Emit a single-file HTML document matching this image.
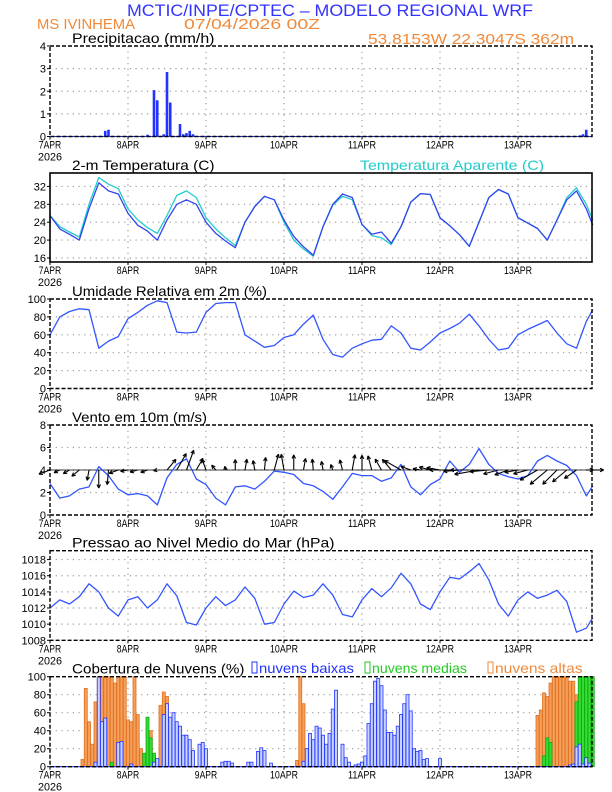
<!DOCTYPE html>
<html><head><meta charset="utf-8"><style>
html,body{margin:0;padding:0;background:#fff;}
svg{display:block;font-family:"Liberation Sans",sans-serif;}
</style></head><body>
<svg id="chart" width="612" height="792" viewBox="0 0 612 792" xmlns="http://www.w3.org/2000/svg">
<text x="330" y="16" font-size="17" fill="#3333ff" text-anchor="middle" textLength="406" lengthAdjust="spacingAndGlyphs">MCTIC/INPE/CPTEC – MODELO REGIONAL WRF</text>
<text x="37" y="29" font-size="15" fill="#f08a3a" textLength="98" lengthAdjust="spacingAndGlyphs">MS IVINHEMA</text>
<text x="184" y="29" font-size="15" fill="#f08a3a" textLength="136" lengthAdjust="spacingAndGlyphs">07/04/2026 00Z</text>
<text x="368" y="44" font-size="15" fill="#f08a3a" textLength="206" lengthAdjust="spacingAndGlyphs">53.8153W 22.3047S 362m</text>
<g id="plots"></g>
</svg>
<script>
// ---- data ----
const tHours = [0,3,6,9,12,15,18,21,24,27,30,33,36,39,42,45,48,51,54,57,60,63,66,69,72,75,78,81,84,87,90,93,96,99,102,105,108,111,114,117,120,123,126,129,132,135,138,141,144,147,150,153,156,159,162,165,167];
const tempVals = [25.5,22.5,21.3,20.0,27.0,32.8,31.0,30.3,26.0,23.3,22.0,20.0,24.5,28.0,29.0,28.0,24.0,21.5,19.8,18.3,24.0,27.5,29.8,29.0,24.5,20.8,18.5,16.6,23.0,28.0,30.3,29.5,23.5,21.3,21.8,19.3,23.0,28.5,30.4,30.2,25.0,23.2,21.2,18.6,24.0,29.5,31.3,30.3,25.0,23.8,22.6,20.0,24.5,29.0,31.0,27.0,23.3];
const apparentVals = [25.5,23.0,21.8,20.7,28.0,34.0,32.5,31.5,27.0,24.5,22.8,21.5,25.5,30.0,31.0,29.5,25.0,22.5,20.5,18.8,24.0,27.5,29.8,29.0,24.0,20.0,18.0,16.4,23.0,27.8,29.8,29.0,23.5,21.0,20.5,19.0,23.0,28.5,30.4,30.2,25.0,23.2,21.2,18.6,24.0,29.5,31.3,30.3,25.0,23.8,22.6,20.0,24.5,29.5,31.7,28.0,24.5];
const rhVals = [60,80,86,89,88,45,53,58,78,85,93,98,96,63,62,63,85,95,96,96,60,53,46,48,57,60,72,82,55,38,35,45,50,54,55,70,62,45,43,52,62,67,73,83,70,55,43,45,60,66,71,76,62,50,45,75,88];
const windSpeed = [2.8,1.5,1.7,2.3,2.5,4.3,3.5,2.3,1.8,1.9,1.7,0.9,3.3,4.5,5.0,3.2,2.7,1.5,0.9,2.5,2.6,2.3,3.0,3.9,3.8,3.6,2.8,2.6,2.1,1.4,2.5,3.7,3.5,3.5,3.0,3.3,4.5,2.5,1.8,2.7,3.2,4.8,3.8,4.5,5.9,4.5,3.7,3.4,3.2,3.5,4.8,5.3,4.8,4.4,3.5,1.7,2.6];
const windDir = [250,245,240,230,190,180,185,250,260,255,250,260,40,30,20,30,340,320,350,0,10,350,5,15,350,0,10,355,350,340,345,10,0,345,330,320,300,290,280,285,280,270,265,270,260,265,255,250,260,255,240,230,225,230,235,90,90];
const presVals = [1012,1013,1012.5,1013.4,1015,1014,1012,1011,1013,1013.4,1012,1013,1015,1013.5,1010.2,1009.9,1012,1013.4,1012.3,1013,1014.6,1013.2,1010,1010.2,1012.5,1014.1,1013.3,1013.6,1015,1013.6,1011.2,1010.9,1013,1014.4,1013.4,1014.5,1016.3,1015,1012.5,1011.8,1014,1015.8,1015.6,1016.5,1017.5,1015.5,1012.5,1011,1013,1014,1013.2,1013.6,1014.2,1012.8,1009,1009.5,1010.8];
const precipHours = [17,18,30,32,33,35,36,37,40,41,42,43,44,163,164,165];
const precipVals = [0.25,0.3,0.08,2.05,1.6,0.1,2.85,1.5,0.55,0.1,0.15,0.25,0.1,0.05,0.1,0.3];
const highHours = [10,11,12,13,14,15,16,17,18,19,20,21,22,23,24,25,26,27,28,31,32,34,35,36,37,76,77,78,104,150,151,152,153,154,155,156,157,158,159,160,161,162];
const highVals = [8,87,50,25,72,100,100,100,100,100,93,100,100,100,52,50,100,58,20,40,12,68,83,78,45,7,100,70,22,57,63,82,78,93,100,100,100,100,100,95,95,80];
const midHours = [19,29,30,31,32,96,112,152,153,154,162,163,164,165,166,167];
const midVals = [5,15,55,32,15,5,10,12,32,27,72,100,100,100,100,100];
const lowHours = [14,15,16,17,21,22,25,32,33,35,36,37,38,39,40,41,42,43,44,46,47,48,53,54,55,56,61,62,64,65,66,68,78,79,80,81,82,83,84,85,86,87,88,90,91,92,94,95,96,97,98,99,100,101,102,103,104,105,106,107,108,109,110,111,112,113,114,115,116,120,160,161,162,163,164,165,166];
const lowVals = [5,100,50,54,27,28,3,5,9,58,70,55,60,50,45,35,35,30,18,25,27,20,5,6,6,4,5,5,17,21,18,4,6,20,37,30,45,43,35,25,37,64,85,25,10,5,2,3,5,12,48,70,95,98,90,63,38,38,35,45,58,70,80,62,20,17,18,8,9,9,2,3,22,25,3,10,4];
const dayLabels = ["7APR","8APR","9APR","10APR","11APR","12APR","13APR"];

// ---- geometry ----
const X0 = 50, PXH = 3.25, X1 = 592;
const xs = h => X0 + h * PXH;
const NS = "http://www.w3.org/2000/svg";
const root = document.getElementById('plots');
function el(tag, attrs, parent) {
  const e = document.createElementNS(NS, tag);
  for (const k in attrs) e.setAttribute(k, attrs[k]);
  (parent || root).appendChild(e);
  return e;
}
function panel(name, top, bot, vmin, vmax, ticks, title) {
  const g = el('g', {});
  
  
  const ys = v => bot - (v - vmin) / (vmax - vmin) * (bot - top);
  for (let d = 1; d < 7; d++) {
    const gl = el('line', {x1: xs(d*24), x2: xs(d*24), y1: top, y2: bot, stroke: '#999', 'stroke-dasharray': '1.2,4.5', 'stroke-width': 1.2}, g);
    
    
  }
  ticks.forEach(t => {
    if (t !== vmin && t !== vmax) {
      const hl = el('line', {x1: X0, x2: X1, y1: ys(t), y2: ys(t), stroke: '#999', 'stroke-dasharray': '1.2,4.5', 'stroke-width': 1.2}, g);
      
      
    }
    el('line', {x1: X0 - 3, x2: X0, y1: ys(t), y2: ys(t), stroke: '#000'}, g);
    const tl = el('text', {x: X0 - 4, y: ys(t) + 4, 'font-size': 11, 'text-anchor': 'end'}, g);
    
    
    tl.textContent = t;
  });
  dayLabels.forEach((lab, d) => {
    el('line', {x1: xs(d*24), x2: xs(d*24), y1: bot, y2: bot + 3, stroke: '#000'}, g);
    const t = el('text', {x: xs(d*24), y: bot + 12, 'font-size': 11, 'text-anchor': 'middle', textLength: lab.length * 5.6, lengthAdjust: 'spacingAndGlyphs'}, g);
    
    
    t.textContent = lab;
  });
  const yr = el('text', {x: X0, y: bot + 24, 'font-size': 11, 'text-anchor': 'middle', textLength: 24, lengthAdjust: 'spacingAndGlyphs'}, g);
  
  
  yr.textContent = '2026';
  const tt = el('text', {x: 72, y: top - 3, 'font-size': 14, textLength: title.length * 7.5, lengthAdjust: 'spacingAndGlyphs'}, g);
  
  
  tt.textContent = title;
  return {g, ys, top, bot};
}
function frame(p, solid) {
  const r = el('rect', {x: X0, y: p.top, width: X1 - X0, height: p.bot - p.top, fill: 'none', stroke: '#000', 'stroke-width': solid ? 1.6 : 1.4, 'stroke-dasharray': solid ? '' : '4,2'}, p.g);
  
  
}
function line(p, hours, vals, color, name) {
  const pts = hours.map((h, i) => xs(h).toFixed(1) + ',' + p.ys(vals[i]).toFixed(1)).join(' ');
  const l = el('polyline', {points: pts, fill: 'none', stroke: color, 'stroke-width': 1.3, 'stroke-linejoin': 'round'}, p.g);
  
  
}

// Precip
const pP = panel('precipitation', 46, 136.5, 0, 4, [0,1,2,3,4], 'Precipitacao (mm/h)');
precipHours.forEach((h, i) => {
  const b = el('rect', {x: xs(h) - 1.3, y: pP.ys(precipVals[i]), width: 2.6, height: pP.bot - pP.ys(precipVals[i]), fill: '#2233ff'}, pP.g);
  
  
});
el('line', {x1: X0, x2: X1, y1: 136.5, y2: 136.5, stroke: '#2233ff', 'stroke-width': 1}, pP.g);
frame(pP, false);

// Temperature
const pT = panel('temperature', 173, 262, 15.1, 35, [16,20,24,28,32], '2-m Temperatura (C)');
const at = el('text', {x: 360, y: 170, 'font-size': 14, fill: '#22cccc', textLength: 184, lengthAdjust: 'spacingAndGlyphs'}, pT.g);


at.textContent = 'Temperatura Aparente (C)';
line(pT, tHours, apparentVals, '#22cccc', 'apparent-temperature-line');
line(pT, tHours, tempVals, '#3344ee', 'temperature-line');
frame(pT, true);

// RH
const pR = panel('humidity', 299, 388.5, 0, 100, [0,20,40,60,80,100], 'Umidade Relativa em 2m (%)');
line(pR, tHours, rhVals, '#3355ff', 'humidity-line');
frame(pR, false);

// Wind
const pW = panel('wind', 425, 515, 0, 8, [0,2,4,6,8], 'Vento em 10m (m/s)');
el('line', {x1: X0, x2: X1, y1: pW.ys(4), y2: pW.ys(4), stroke: '#000', 'stroke-width': 0.8}, pW.g);
line(pW, tHours, windSpeed, '#3355ff', 'wind-speed-line');
tHours.forEach((h, i) => {
  const a = windDir[i] * Math.PI / 180, s = windSpeed[i] * 4.2;
  const x0 = xs(h), y0 = pW.ys(4);
  const x1 = x0 + Math.sin(a) * s, y1 = y0 - Math.cos(a) * s;
  const g = el('g', {stroke: '#000', 'stroke-width': 1.1, fill: 'none'}, pW.g);
  
  
  el('line', {x1: x0, y1: y0, x2: x1, y2: y1}, g);
  const ang = Math.atan2(y1 - y0, x1 - x0);
  [0.45, -0.45].forEach(o => el('line', {x1: x1, y1: y1, x2: x1 - 4 * Math.cos(ang + o), y2: y1 - 4 * Math.sin(ang + o)}, g));
});
frame(pW, false);

// Pressure
const pS = panel('pressure', 550.7, 640.3, 1008, 1019.1, [1008,1010,1012,1014,1016,1018], 'Pressao ao Nivel Medio do Mar (hPa)');
line(pS, tHours, presVals, '#3355ff', 'pressure-line');
frame(pS, false);

// Clouds
const pC = panel('clouds', 676.7, 766.7, 0, 100, [0,20,40,60,80,100], 'Cobertura de Nuvens (%)');
function bars(hours, vals, fill, stroke, name) {
  hours.forEach((h, i) => {
    const b = el('rect', {x: xs(h) - 1.5, y: pC.ys(vals[i]), width: 3, height: pC.bot - pC.ys(vals[i]), fill: fill, stroke: stroke, 'stroke-width': 0.8}, pC.g);
    
    
  });
}
bars(highHours, highVals, '#f5a05a', '#e07020', 'high-cloud-bar');
bars(midHours, midVals, '#33dd33', '#11aa11', 'mid-cloud-bar');
bars(lowHours, lowVals, '#c8d4ff', '#2233ff', 'low-cloud-bar');
el('line', {x1: X0, x2: X1, y1: 766.7, y2: 766.7, stroke: '#2233ff', 'stroke-width': 1.2}, pC.g);
frame(pC, false);
[['nuvens baixas', 259, '#2233ff', 'low'], ['nuvens medias', 372, '#22cc22', 'mid'], ['nuvens altas', 495, '#f08a3a', 'high']].forEach(([t, x, c, k]) => {
  const lg = el('g', {}, pC.g);
  
  
  el('rect', {x: x - 7, y: 662, width: 5, height: 11, fill: 'none', stroke: c, 'stroke-width': 1}, lg);
  const tx = el('text', {x: x, y: 673, 'font-size': 14, fill: c, textLength: t.length * 7.3, lengthAdjust: 'spacingAndGlyphs'}, lg);
  tx.textContent = t;
});
</script>
</body></html>
